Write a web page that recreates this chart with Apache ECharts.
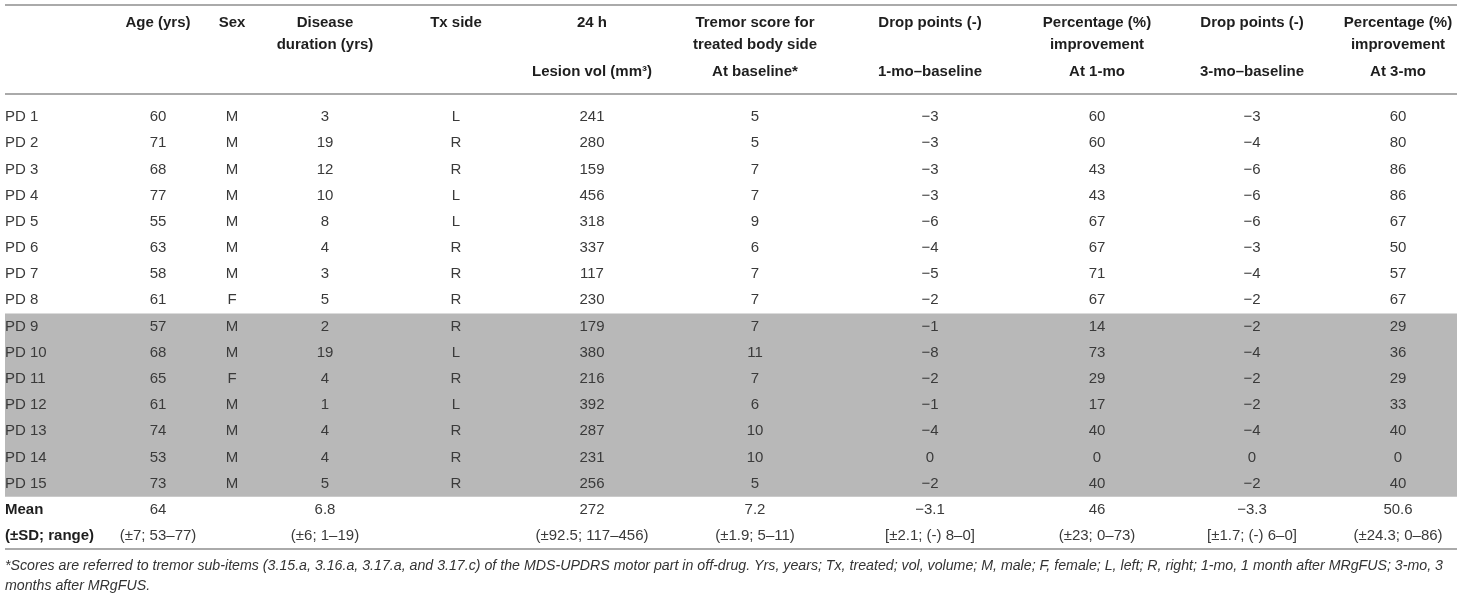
<!DOCTYPE html>
<html>
<head>
<meta charset="utf-8">
<script src="https://cdn.jsdelivr.net/npm/echarts@6/dist/echarts.min.js"></script>
<style>
  html, body { margin: 0; padding: 0; background: #fff; }
  #main { width: 1461px; height: 608px; }
</style>
</head>
<body>
<div id="main"></div>
<script>
// table values
var PATIENTS = ['PD 1', 'PD 2', 'PD 3', 'PD 4', 'PD 5', 'PD 6', 'PD 7', 'PD 8',
  'PD 9', 'PD 10', 'PD 11', 'PD 12', 'PD 13', 'PD 14', 'PD 15'];
var AGE = [60, 71, 68, 77, 55, 63, 58, 61, 57, 68, 65, 61, 74, 53, 73];
var SEX = ['M', 'M', 'M', 'M', 'M', 'M', 'M', 'F', 'M', 'M', 'F', 'M', 'M', 'M', 'M'];
var DURATION = [3, 19, 12, 10, 8, 4, 3, 5, 2, 19, 4, 1, 4, 4, 5];
var TX_SIDE = ['L', 'R', 'R', 'L', 'L', 'R', 'R', 'R', 'R', 'L', 'R', 'L', 'R', 'R', 'R'];
var LESION = [241, 280, 159, 456, 318, 337, 117, 230, 179, 380, 216, 392, 287, 231, 256];
var TREMOR = [5, 5, 7, 7, 9, 6, 7, 7, 7, 11, 7, 6, 10, 10, 5];
var DROP_1MO = [-3, -3, -3, -3, -6, -4, -5, -2, -1, -8, -2, -1, -4, 0, -2];
var PCT_1MO = [60, 60, 43, 43, 67, 67, 71, 67, 14, 73, 29, 17, 40, 0, 40];
var DROP_3MO = [-3, -4, -6, -6, -6, -3, -4, -2, -2, -4, -2, -2, -4, 0, -2];
var PCT_3MO = [60, 80, 86, 86, 67, 50, 57, 67, 29, 36, 29, 33, 40, 0, 40];
var MEAN = ['64', '', '6.8', '', '272', '7.2', '\u22123.1', '46', '\u22123.3', '50.6'];
var SD_RANGE = ['(\u00b17; 53\u201377)', '', '(\u00b16; 1\u201319)', '', '(\u00b192.5; 117\u2013456)',
  '(\u00b11.9; 5\u201311)', '[\u00b12.1; (-) 8\u20130]', '(\u00b123; 0\u201373)',
  '[\u00b11.7; (-) 6\u20130]', '(\u00b124.3; 0\u201386)'];
var SUMMARY_LABELS = ['Mean', '(\u00b1SD; range)'];
var SHADED = ['PD 9', 'PD 15'];

// header: three text lines per column
var HEADERS = [
  ['', '', ''],
  ['Age (yrs)', '', ''],
  ['Sex', '', ''],
  ['Disease', 'duration (yrs)', ''],
  ['Tx side', '', ''],
  ['24 h', '', 'Lesion vol (mm\u00b3)'],
  ['Tremor score for', 'treated body side', 'At baseline*'],
  ['Drop points (-)', '', '1-mo\u2013baseline'],
  ['Percentage (%)', 'improvement', 'At 1-mo'],
  ['Drop points (-)', '', '3-mo\u2013baseline'],
  ['Percentage (%)', 'improvement', 'At 3-mo']
];
var FOOTNOTE = [
  '*Scores are referred to tremor sub-items (3.15.a, 3.16.a, 3.17.a, and 3.17.c) of the MDS-UPDRS motor part in off-drug. Yrs, years; Tx, treated; vol, volume; M, male; F, female; L, left; R, right; 1-mo, 1 month after MRgFUS; 3-mo, 3',
  'months after MRgFUS.'
];

// layout
var W = 1461;
var COL_X = [5, 158, 232, 325, 456, 592, 755, 930, 1097, 1252, 1398];
var HEAD_Y = [23, 45, 72];
var HEAD_FONT = 'bold 15px "Liberation Sans", Arial, sans-serif';
var BODY_FONT = '15px "Liberation Sans", Arial, sans-serif';
var BOLD_FONT = 'bold 15px "Liberation Sans", Arial, sans-serif';
var NOTE_FONT = 'italic 14.2px "Liberation Sans", Arial, sans-serif';
var RULE = '#aaaaaa';

function fmt(v) {
  return v < 0 ? '\u2212' + Math.abs(v) : String(v);
}

var rowNames = PATIENTS.concat(SUMMARY_LABELS);

// body cells
var cells = [];
PATIENTS.forEach(function (p, i) {
  var vals = [p, AGE[i], SEX[i], DURATION[i], TX_SIDE[i], LESION[i], TREMOR[i],
    fmt(DROP_1MO[i]), PCT_1MO[i], fmt(DROP_3MO[i]), PCT_3MO[i]];
  vals.forEach(function (v, c) {
    cells.push({ col: c, row: i, text: String(v), bold: false });
  });
});
[MEAN, SD_RANGE].forEach(function (arr, k) {
  var r = PATIENTS.length + k;
  cells.push({ col: 0, row: r, text: SUMMARY_LABELS[k], bold: true });
  arr.forEach(function (v, c) {
    if (v) cells.push({ col: c + 1, row: r, text: v, bold: false });
  });
});

// header cells
var heads = [];
HEADERS.forEach(function (lines, c) {
  lines.forEach(function (t, l) {
    if (t) heads.push({ col: c, line: l, text: t });
  });
});

var myChart = echarts.init(document.getElementById('main'));
var option = {
  animation: false,
  backgroundColor: '#fff',
  grid: [
    { left: 0, right: 0, top: 0, height: 100 },
    { left: 0, right: 0, top: 104, height: 445 }
  ],
  xAxis: [
    { type: 'value', min: 0, max: W, show: false, gridIndex: 0 },
    { type: 'value', min: 0, max: W, show: false, gridIndex: 1 }
  ],
  yAxis: [
    { type: 'value', min: 0, max: 100, inverse: true, show: false, gridIndex: 0 },
    { type: 'category', data: rowNames, inverse: true, show: false, gridIndex: 1 }
  ],
  series: [
    {
      // grey band behind PD 9 - PD 15
      type: 'custom',
      xAxisIndex: 1,
      yAxisIndex: 1,
      silent: true,
      data: [[rowNames.indexOf(SHADED[0]), rowNames.indexOf(SHADED[1])]],
      renderItem: function (params, api) {
        var band = api.size([0, 1])[1];
        var a = api.coord([5, api.value(0)]);
        var b = api.coord([1457, api.value(1)]);
        return {
          type: 'rect',
          shape: { x: a[0], y: a[1] - band / 2, width: b[0] - a[0], height: b[1] - a[1] + band },
          style: { fill: '#b8b8b8' }
        };
      }
    },
    {
      type: 'custom',
      xAxisIndex: 0,
      yAxisIndex: 0,
      silent: true,
      data: heads.map(function (h) { return [h.col, h.line]; }),
      renderItem: function (params, api) {
        var h = heads[params.dataIndex];
        var p = api.coord([COL_X[h.col], HEAD_Y[h.line]]);
        return {
          type: 'text',
          x: p[0],
          y: p[1],
          style: { text: h.text, font: HEAD_FONT, fill: '#1e1e1e', align: 'center', verticalAlign: 'middle' }
        };
      }
    },
    {
      type: 'custom',
      xAxisIndex: 1,
      yAxisIndex: 1,
      silent: true,
      data: cells.map(function (c) { return [c.col, c.row]; }),
      renderItem: function (params, api) {
        var c = cells[params.dataIndex];
        var p = api.coord([COL_X[c.col], c.row]);
        return {
          type: 'text',
          x: p[0],
          y: p[1],
          style: {
            text: c.text,
            font: c.bold ? BOLD_FONT : BODY_FONT,
            fill: c.bold ? '#1e1e1e' : '#3a3a3a',
            align: c.col === 0 ? 'left' : 'center',
            verticalAlign: 'middle'
          }
        };
      }
    }
  ],
  graphic: [
    { type: 'line', shape: { x1: 5, y1: 5, x2: 1457, y2: 5 }, style: { stroke: RULE, lineWidth: 2 }, silent: true },
    { type: 'line', shape: { x1: 5, y1: 94, x2: 1457, y2: 94 }, style: { stroke: RULE, lineWidth: 2 }, silent: true },
    { type: 'line', shape: { x1: 5, y1: 549, x2: 1457, y2: 549 }, style: { stroke: RULE, lineWidth: 2 }, silent: true },
    {
      type: 'text', left: 5, top: 559, silent: true,
      style: { text: FOOTNOTE[0], font: NOTE_FONT, fill: '#333' }
    },
    {
      type: 'text', left: 5, top: 579, silent: true,
      style: { text: FOOTNOTE[1], font: NOTE_FONT, fill: '#333' }
    }
  ]
};
myChart.setOption(option);
</script>
</body>
</html>
